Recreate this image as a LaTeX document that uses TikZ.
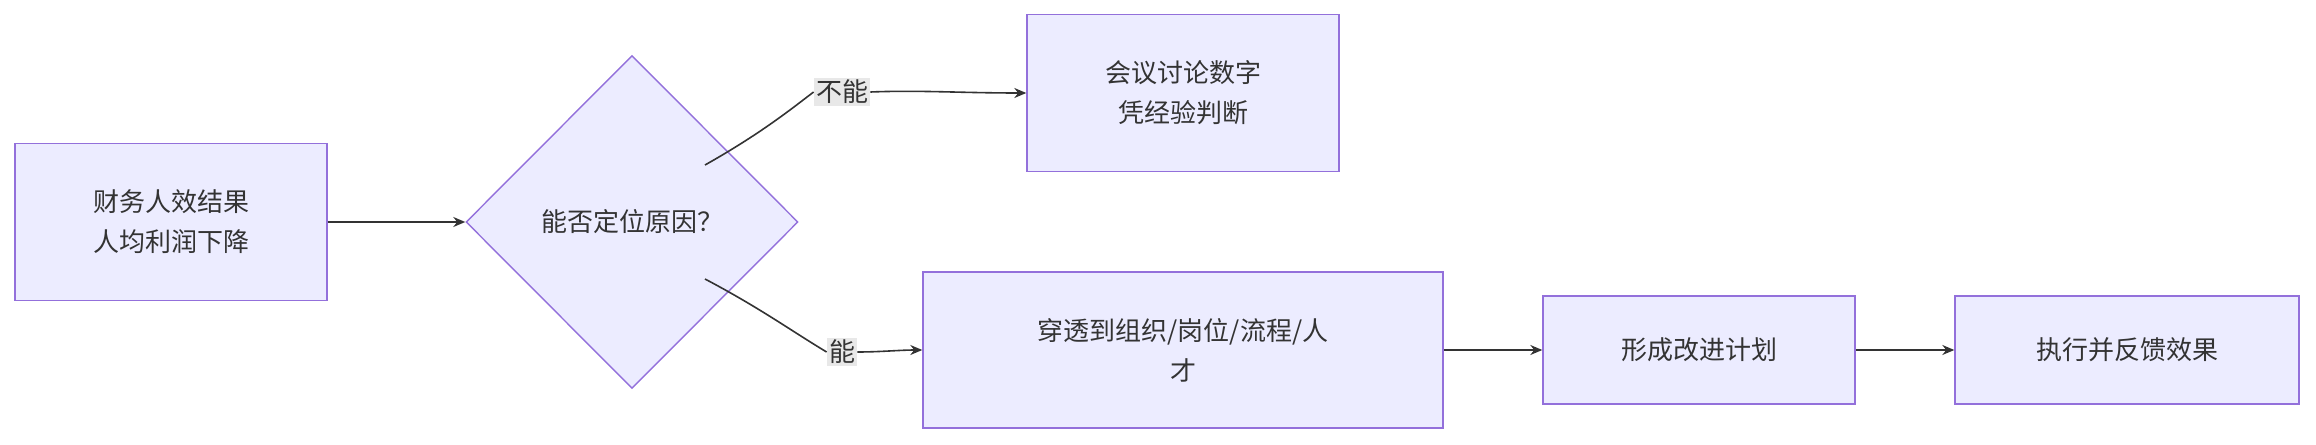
\documentclass[tikz,border=0pt]{standalone}
\usepackage{fontspec}
\setmainfont{Noto Sans CJK SC}
\usetikzlibrary{shapes.geometric,arrows.meta}
\definecolor{nfill}{HTML}{ECECFF}
\definecolor{nstroke}{HTML}{9370DB}
\definecolor{ntext}{HTML}{333333}
\definecolor{lbg}{HTML}{E8E8E8}
\begin{document}
\begin{tikzpicture}[x=0.5pt,y=-0.5pt,
  box/.style={draw=nstroke,fill=nfill,line width=0.7pt,text=ntext,align=center,inner sep=0pt,font=\fontsize{13}{20}\selectfont},
  lab/.style={fill=lbg,text=ntext,inner sep=1pt,font=\fontsize{13}{16}\selectfont},
  edge/.style={draw=ntext,line width=0.8pt,-{Stealth[length=6pt,width=5pt]}},
  plain/.style={draw=ntext,line width=0.8pt}]
\useasboundingbox (0,0) rectangle (2316,444);
\node[box,minimum width=156pt,minimum height=78.5pt] (a) at (171,222) {财务人效结果\\人均利润下降};
\node[box,diamond,minimum width=166pt,minimum height=166.5pt] (q) at (632,222) {能否定位原因？};
\node[box,minimum width=156pt,minimum height=78.5pt] (b) at (1183,93) {会议讨论数字\\凭经验判断};
\node[box,minimum width=260pt,minimum height=78pt] (c) at (1183,350) {穿透到组织/岗位/流程/人\\才};
\node[box,minimum width=156pt,minimum height=54pt] (d) at (1699,350) {形成改进计划};
\node[box,minimum width=172pt,minimum height=54pt] (e) at (2127,350) {执行并反馈效果};
\node[lab] (l1) at (842,92) {不能};
\node[lab] (l2) at (842,352) {能};
\coordinate (q1) at (705,165);
\coordinate (q2) at (705,279);
\draw[edge] (a) -- (q);
\draw[plain] (q1) .. controls (760,134) and (790,110) .. (l1.west);
\draw[edge] (l1.east) .. controls (920,90) and (960,93) .. (b.west);
\draw[plain] (q2) .. controls (760,308) and (790,330) .. (l2.west);
\draw[edge] (l2.east) .. controls (880,352) and (900,350) .. (c.west);
\draw[edge] (c) -- (d);
\draw[edge] (d) -- (e);
\end{tikzpicture}
\end{document}
